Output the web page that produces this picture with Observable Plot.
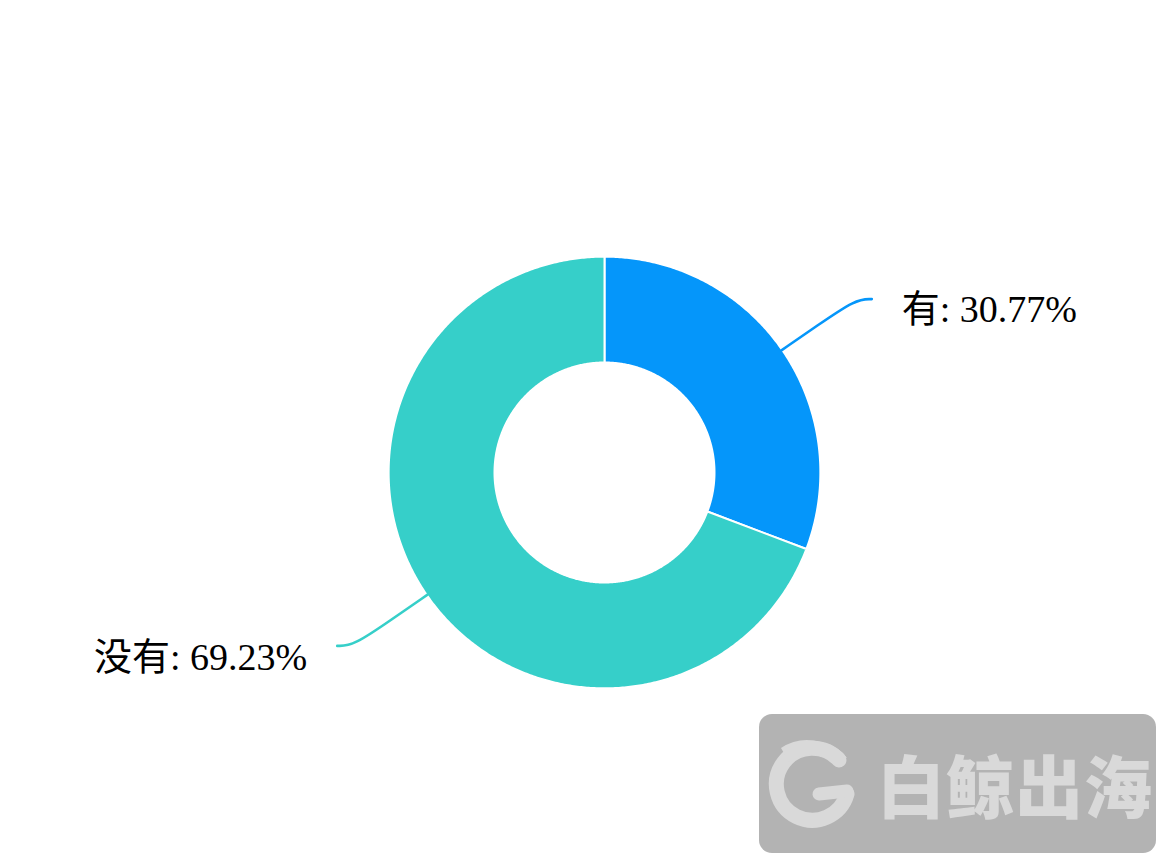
<!DOCTYPE html>
<html><head><meta charset="utf-8">
<script src="https://cdn.jsdelivr.net/npm/d3@7"></script>
<script src="https://cdn.jsdelivr.net/npm/@observablehq/plot@0.6"></script>
<style>
body{margin:0;background:#fff;overflow:hidden}
#wrap{position:relative;width:1167px;height:864px}
#wm{position:absolute;left:759px;top:714px;width:397px;height:139px;border-radius:13px;background:#b3b3b3}
#wm svg{position:absolute;left:0;top:0}
#wm .t{position:absolute;left:118px;top:0;font:900 68px 'Noto Sans CJK SC',sans-serif;color:#d9d9d9;line-height:139px;letter-spacing:1px;white-space:nowrap}
</style></head><body><div id="wrap"><div id="wm">
<svg width="110" height="139" viewBox="0 0 110 139">
  <path d="M 80 46 A 36 36 0 1 0 88 80" fill="none" stroke="#d9d9d9" stroke-width="15" stroke-linecap="round"/>
  <path d="M 60 80 L 88 77" fill="none" stroke="#d9d9d9" stroke-width="13" stroke-linecap="round"/>
  <path d="M 22 34 Q 40 22 62 28 Q 80 32 88 44 Q 76 40 66 44 Q 50 36 30 48 Z" fill="#d9d9d9"/>
</svg>
<span class="t">白鲸出海</span></div></div>
<script>
const categories = ["有", "没有"];
const values = [30.77, 69.23];
const colors = ["#0596fa", "#36cfc9"];

const total = d3.sum(values);
let acc = 0;
const slices = categories.map((c, i) => {
  const a0 = acc / total * 2 * Math.PI; acc += values[i];
  const a1 = acc / total * 2 * Math.PI;
  return {c, v: values[i], a0, a1, mid: (a0 + a1) / 2};
});
const R = 1.004, r0 = 110 / 215;
const pts = [];
slices.forEach(s => {
  const n = Math.max(2, Math.ceil((s.a1 - s.a0) / (2 * Math.PI) * 720));
  for (let k = 0; k <= n; k++) { const a = s.a0 + (s.a1 - s.a0) * k / n; pts.push({c: s.c, x: R * Math.sin(a), y: R * Math.cos(a)}); }
  for (let k = n; k >= 0; k--) { const a = s.a0 + (s.a1 - s.a0) * k / n; pts.push({c: s.c, x: r0 * Math.sin(a), y: r0 * Math.cos(a)}); }
});
const lines = [], labels = [];
slices.forEach(s => {
  const sx = Math.sin(s.mid), sy = Math.cos(s.mid), side = sx >= 0 ? 1 : -1;
  [1.0, 1.2, 1.42].forEach(rr => lines.push({c: s.c, x: rr * sx, y: rr * sy}));
  const ex = 1.42 * sx + side * 16 / 215, ey = 1.42 * sy;
  lines.push({c: s.c, x: ex, y: ey});
  labels.push({c: s.c, x: ex, y: ey, side, text: `${s.c}: ${s.v.toFixed(2)}%`});
});

const font = "'Liberation Serif','Noto Sans CJK SC',serif";
const chart = Plot.plot({
  width: 1167, height: 864,
  margin: 0,
  x: {domain: [-604 / 215, 563 / 215], range: [0, 1167], axis: null},
  y: {domain: [-392 / 215, 472 / 215], range: [864, 0], axis: null},
  color: {domain: categories, range: colors},
  style: {background: "white", overflow: "visible"},
  marks: [
    Plot.line(pts, {x: "x", y: "y", z: "c", fill: "c", stroke: "white", strokeWidth: 2, curve: "linear-closed"}),
    Plot.line(lines, {x: "x", y: "y", z: "c", stroke: "c", strokeWidth: 2.6, curve: "basis"}),
    Plot.text(labels.filter(d => d.side > 0), {x: "x", y: "y", text: "text", dx: 30, dy: 11, textAnchor: "start", fontSize: 38, fill: "black", fontFamily: font}),
    Plot.text(labels.filter(d => d.side < 0), {x: "x", y: "y", text: "text", dx: -30, dy: 12, textAnchor: "end", fontSize: 38, fill: "black", fontFamily: font})
  ]
});
const wrap = document.getElementById("wrap");
wrap.insertBefore(chart, wrap.firstChild);
</script>
</body></html>
